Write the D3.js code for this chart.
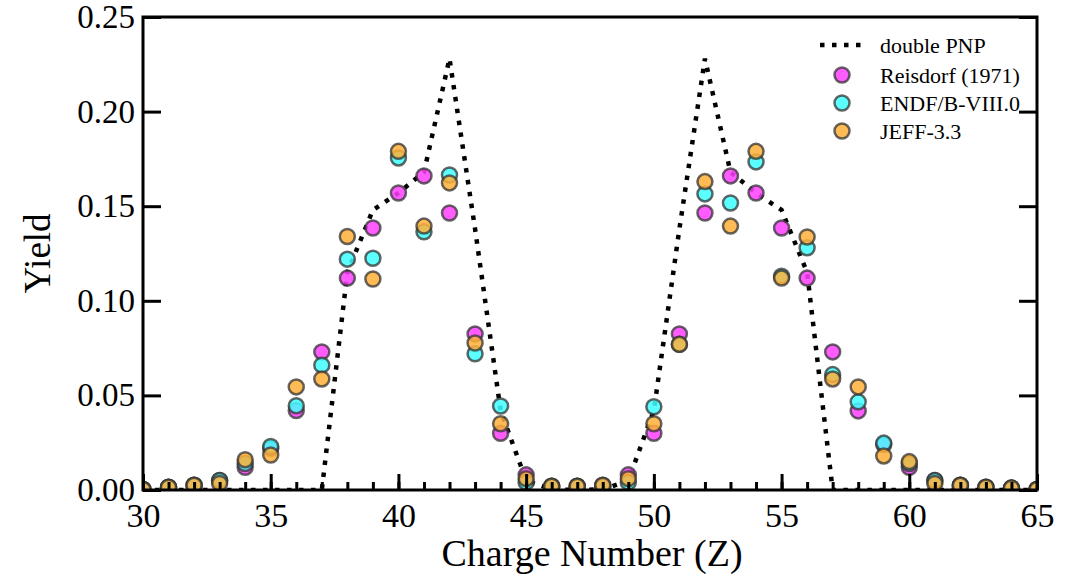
<!DOCTYPE html>
<html>
<head>
<meta charset="utf-8">
<script src="https://cdn.jsdelivr.net/npm/d3@7"></script>
<style>
  html, body { margin: 0; padding: 0; background: #fff; }
  svg { display: block; font-family: "Liberation Serif", "Times New Roman", serif; }
</style>
</head>
<body>
<svg id="chart" width="1086" height="577"></svg>
<script>
// Charge number Z
const charge = [30, 31, 32, 33, 34, 35, 36, 37, 38, 39, 40, 41, 42, 43, 44, 45, 46, 47,
                48, 49, 50, 51, 52, 53, 54, 55, 56, 57, 58, 59, 60, 61, 62, 63, 64, 65];

// Double PNP model
const pnp = [0, 0, 0, 0, 0, 0, 0, 0, 0.115, 0.148, 0.157, 0.168, 0.228, 0.138, 0.042, 0.005, 0.0003, 0.0001,
             0.0003, 0.005, 0.042, 0.138, 0.228, 0.168, 0.157, 0.148, 0.115, 0, 0, 0, 0, 0, 0, 0, 0, 0];

// Reisdorf (1971)
const reisdorf = [0.0004, 0.0015, 0.0025, 0.005, 0.012, 0.022, 0.042, 0.073, 0.112, 0.1385, 0.157, 0.166, 0.1464, 0.0825, 0.030, 0.008, 0.002, 0.002,
                  0.0025, 0.008, 0.030, 0.0825, 0.1464, 0.166, 0.157, 0.1385, 0.112, 0.073, 0.0418, 0.024, 0.012, 0.005, 0.0025, 0.0015, 0.001, 0.0004];

// ENDF/B-VIII.0
const endf = [0.0003, 0.0015, 0.0025, 0.005, 0.014, 0.023, 0.0445, 0.066, 0.122, 0.1225, 0.1755, 0.1365, 0.1665, 0.072, 0.0444, 0.004, 0.002, 0.002,
              0.002, 0.004, 0.044, 0.077, 0.1565, 0.1517, 0.1734, 0.113, 0.128, 0.061, 0.0466, 0.0248, 0.014, 0.005, 0.0025, 0.0015, 0.001, 0.0003];

// JEFF-3.3
const jeff = [0.0003, 0.0015, 0.0025, 0.0035, 0.016, 0.0185, 0.0545, 0.0587, 0.134, 0.1115, 0.179, 0.1395, 0.1623, 0.0777, 0.035, 0.006, 0.002, 0.002,
              0.0025, 0.006, 0.035, 0.077, 0.163, 0.1395, 0.179, 0.112, 0.1337, 0.0587, 0.0545, 0.018, 0.015, 0.0035, 0.0025, 0.0015, 0.001, 0.0003];

const xTicks = [30, 35, 40, 45, 50, 55, 60, 65];
const xMinorTicks = charge;
const yTicks = [0, 0.05, 0.10, 0.15, 0.20, 0.25];

const seriesNames = ["Reisdorf (1971)", "ENDF/B-VIII.0", "JEFF-3.3"];
const seriesColors = ["#ff40ff", "#40ffff", "#ffb038"];
const seriesValues = [reisdorf, endf, jeff];

const svg = d3.select("#chart");
const margin = { left: 143, top: 17, right: 49, bottom: 87 };
const W = 1086 - margin.left - margin.right;
const H = 577 - margin.top - margin.bottom;

const x = d3.scaleLinear().domain([30, 65]).range([0, W]);
const y = d3.scaleLinear().domain([0, 0.25]).range([H, 0]);

const g = svg.append("g").attr("transform", `translate(${margin.left},${margin.top})`);

g.append("defs").append("clipPath").attr("id", "plot-clip")
  .append("rect").attr("x", 0).attr("y", 0).attr("width", W).attr("height", H);

const plot = g.append("g").attr("clip-path", "url(#plot-clip)");

// PNP curve
const line = d3.line().x((d, i) => x(charge[i])).y(d => y(d));
plot.append("path")
  .datum(pnp)
  .attr("d", line)
  .attr("fill", "none")
  .attr("stroke", "#000")
  .attr("stroke-width", 4.5)
  .attr("stroke-dasharray", "4.5,7.5");

// Scatter series
seriesValues.forEach((vals, s) => {
  plot.append("g").selectAll("circle")
    .data(vals)
    .join("circle")
    .attr("cx", (d, i) => x(charge[i]))
    .attr("cy", d => y(d))
    .attr("r", 7.5)
    .attr("fill", seriesColors[s])
    .attr("fill-opacity", 0.85)
    .attr("stroke", "#333")
    .attr("stroke-opacity", 0.75)
    .attr("stroke-width", 2.5);
});

// Axes
const styleAxis = size => sel => {
  sel.select(".domain").remove();
  sel.selectAll(".tick line").attr("stroke", "#000").attr("stroke-width", 3);
  sel.selectAll(".tick text").attr("font-size", size).attr("fill", "#000")
    .attr("font-family", '"Liberation Serif", "Times New Roman", serif');
};

g.append("g").attr("transform", `translate(0,${H})`)
  .call(d3.axisBottom(x).tickValues(xMinorTicks).tickSize(-8).tickFormat(""))
  .call(styleAxis(34));

g.append("g").attr("transform", `translate(0,${H})`)
  .call(d3.axisBottom(x).tickValues(xTicks).tickSize(-16).tickPadding(13).tickFormat(d3.format("d")))
  .call(styleAxis(34));

g.append("g")
  .call(d3.axisLeft(y).tickValues(yTicks).tickSize(-18).tickPadding(8).tickFormat(d3.format(".2f")))
  .call(styleAxis(33));

g.append("g").attr("transform", `translate(${W},0)`)
  .call(d3.axisRight(y).tickValues(yTicks).tickSize(-18).tickFormat(""))
  .call(styleAxis(33));

// Frame
g.append("rect")
  .attr("x", 0).attr("y", 0).attr("width", W).attr("height", H)
  .attr("fill", "none").attr("stroke", "#000").attr("stroke-width", 3);

// Axis titles
svg.append("text")
  .attr("x", margin.left + W / 2 + 2).attr("y", 566)
  .attr("text-anchor", "middle")
  .attr("font-size", 38)
  .text("Charge Number (Z)");

svg.append("text")
  .attr("transform", `translate(50,${margin.top + H / 2}) rotate(-90)`)
  .attr("text-anchor", "middle")
  .attr("font-size", 37)
  .text("Yield");

// Legend
const legend = svg.append("g").attr("transform", "translate(820,45)");
legend.append("line")
  .attr("x1", 0).attr("x2", 46).attr("y1", 0).attr("y2", 0)
  .attr("stroke", "#000").attr("stroke-width", 4.5).attr("stroke-dasharray", "4.5,7.5");
legend.append("text")
  .attr("x", 60).attr("y", 0).attr("dy", "0.35em")
  .attr("font-size", 22).text("double PNP");

seriesNames.forEach((name, s) => {
  const row = legend.append("g").attr("transform", `translate(0,${30 + s * 28})`);
  row.append("circle")
    .attr("cx", 22).attr("cy", 0).attr("r", 7.5)
    .attr("fill", seriesColors[s]).attr("fill-opacity", 0.85)
    .attr("stroke", "#333").attr("stroke-opacity", 0.75).attr("stroke-width", 2.5);
  row.append("text")
    .attr("x", 60).attr("y", 0).attr("dy", "0.35em")
    .attr("font-size", 22).text(name);
});
</script>
</body>
</html>
